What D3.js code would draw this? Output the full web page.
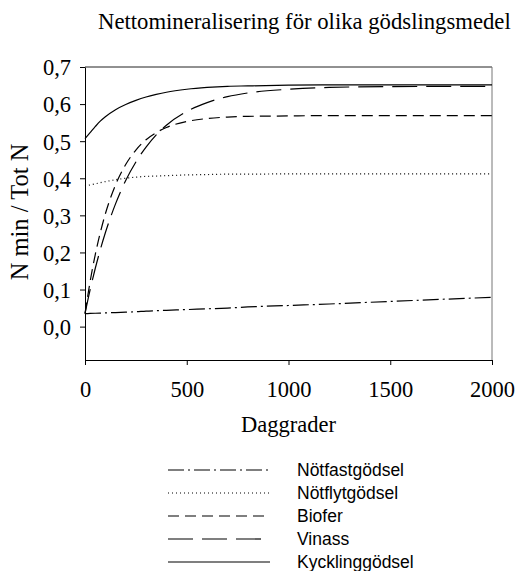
<!DOCTYPE html>
<html>
<head>
<meta charset="utf-8">
<script src="https://cdn.jsdelivr.net/npm/d3@7"></script>
<style>
  html, body { margin: 0; padding: 0; background: #fff; }
  svg { display: block; }
</style>
</head>
<body>
<svg id="chart" width="515" height="571"></svg>
<script>
const title = "Nettomineralisering för olika gödslingsmedel";
const xLabel = "Daggrader";
const yLabel = "N min / Tot N";

const daggrader = [0, 25, 50, 75, 100, 150, 200, 250, 300, 350, 400, 500, 600, 700, 800, 1000, 1200, 1500, 2000];
const notfastgodsel = [0.035, 0.0355, 0.036, 0.0365, 0.037, 0.038, 0.039, 0.040, 0.042, 0.043, 0.044, 0.046, 0.048, 0.050, 0.053, 0.057, 0.061, 0.068, 0.079];
const notflytgodsel = [0.379, 0.382, 0.385, 0.388, 0.391, 0.396, 0.400, 0.403, 0.405, 0.406, 0.407, 0.409, 0.410, 0.411, 0.411, 0.412, 0.412, 0.412, 0.412];
const biofer = [0.035, 0.121, 0.193, 0.253, 0.304, 0.382, 0.437, 0.476, 0.504, 0.523, 0.537, 0.553, 0.561, 0.565, 0.567, 0.568, 0.569, 0.569, 0.569];
const vinass = [0.035, 0.099, 0.156, 0.207, 0.253, 0.331, 0.394, 0.444, 0.484, 0.517, 0.543, 0.580, 0.604, 0.620, 0.630, 0.640, 0.645, 0.647, 0.648];
const kycklinggodsel = [0.507, 0.523, 0.539, 0.554, 0.566, 0.585, 0.599, 0.610, 0.619, 0.626, 0.632, 0.640, 0.645, 0.648, 0.649, 0.651, 0.652, 0.652, 0.652];

const seriesNames = ["Nötfastgödsel", "Nötflytgödsel", "Biofer", "Vinass", "Kycklinggödsel"];
const seriesValues = [notfastgodsel, notflytgodsel, biofer, vinass, kycklinggodsel];
const dashes = ["16,4,2,4", "1,3", "11,6", "25,9", null];

const xTicks = [0, 500, 1000, 1500, 2000];
const yTicks = [0, 0.1, 0.2, 0.3, 0.4, 0.5, 0.6, 0.7];
const fmtY = d => d3.format(".1f")(d).replace(".", ",");

const SERIF = '"Liberation Serif", "Times New Roman", serif';
const SANS = '"Liberation Sans", Arial, sans-serif';

const svg = d3.select("#chart");
const L = 85, R = 492, T = 67, B = 360;

const x = d3.scaleLinear().domain([0, 2000]).range([L, R]);
const y = d3.scaleLinear().domain([-0.09, 0.7]).range([B, T]);

// plot frame (top / right)
svg.append("line").attr("x1", L).attr("x2", R).attr("y1", T).attr("y2", T)
  .attr("stroke", "#222").attr("stroke-width", 1);
svg.append("line").attr("x1", R).attr("x2", R).attr("y1", T).attr("y2", B)
  .attr("stroke", "#777").attr("stroke-width", 1);

// x axis
const xAxis = svg.append("g").attr("transform", `translate(0,${B})`)
  .call(d3.axisBottom(x).tickValues(xTicks).tickSize(5).tickSizeOuter(0).tickFormat(d3.format("d")));
xAxis.attr("font-family", null).attr("font-size", null);
xAxis.select(".domain").attr("stroke", "#000");
xAxis.selectAll(".tick line").attr("stroke", "#000");
xAxis.selectAll("text").style("font-family", SERIF).style("font-size", "22.5px")
  .attr("fill", "#000").attr("dy", null).attr("y", 37);

// y axis
const yAxis = svg.append("g").attr("transform", `translate(${L},0)`)
  .call(d3.axisLeft(y).tickValues(yTicks).tickSize(5).tickSizeOuter(0).tickPadding(9).tickFormat(fmtY));
yAxis.attr("font-family", null).attr("font-size", null);
yAxis.select(".domain").attr("stroke", "#000");
yAxis.selectAll(".tick line").attr("stroke", "#000");
yAxis.selectAll("text").style("font-family", SERIF).style("font-size", "22.5px")
  .attr("fill", "#000").attr("dy", "0.35em");

// lines
const line = d3.line().x((d, i) => x(daggrader[i])).y(d => y(d)).curve(d3.curveMonotoneX);
seriesValues.forEach((vals, k) => {
  svg.append("path").datum(vals)
    .attr("d", line)
    .attr("fill", "none")
    .attr("stroke", "#000")
    .attr("stroke-width", 1.2)
    .attr("stroke-dasharray", dashes[k]);
});

// title & axis labels
svg.append("text").style("font-family", SERIF).style("font-size", "22.7px")
  .attr("x", 98).attr("y", 29).text(title);
svg.append("text").style("font-family", SERIF).style("font-size", "22.5px")
  .attr("x", (L + R) / 2).attr("y", 432).attr("text-anchor", "middle").text(xLabel);
svg.append("text").style("font-family", SERIF).style("font-size", "24.5px")
  .attr("transform", `translate(28,212) rotate(-90)`)
  .attr("text-anchor", "middle").text(yLabel);

// legend
const lg = svg.append("g");
seriesNames.forEach((name, k) => {
  const by = 476 + 23 * k;
  lg.append("line").attr("x1", 168).attr("x2", 270).attr("y1", by - 6).attr("y2", by - 6)
    .attr("stroke", "#000").attr("stroke-width", 1.2).attr("stroke-dasharray", dashes[k]);
  lg.append("text").style("font-family", SANS).style("font-size", "17.5px")
    .attr("x", 297).attr("y", by).text(name);
});
</script>
</body>
</html>
